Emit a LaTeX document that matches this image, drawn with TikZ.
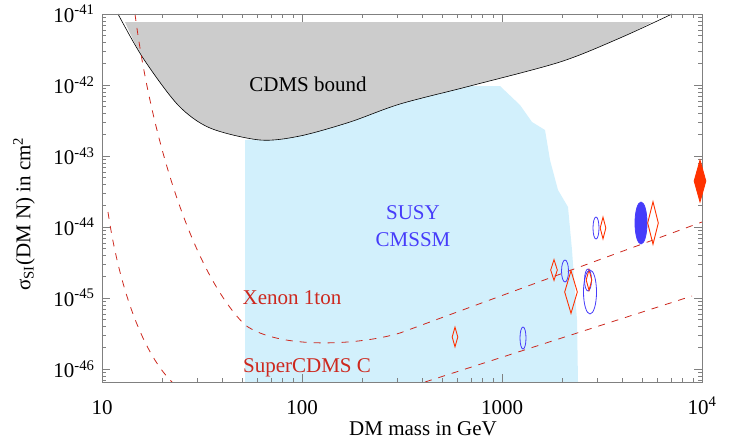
\documentclass[tikz,border=0pt]{standalone}
\usepackage{fontspec}
\setmainfont{Liberation Serif}
\usetikzlibrary{shapes.geometric}
\definecolor{lblue}{RGB}{210,240,252}
\definecolor{gfill}{RGB}{204,204,204}
\definecolor{dred}{RGB}{205,40,30}
\definecolor{mred}{RGB}{255,50,0}
\definecolor{mblue}{RGB}{70,60,250}
\begin{document}
\begin{tikzpicture}[x=1pt,y=-1pt,
  lab/.style={font=\fontsize{21}{24}\selectfont},
  dd/.style={draw=dred,dash pattern=on 7pt off 7pt,line width=0.8pt},
  rdia/.style={diamond,draw=mred,line width=0.9pt,inner sep=0pt,minimum width=#1},
  bell/.style={ellipse,draw=mblue,line width=0.8pt,inner sep=0pt}]
\useasboundingbox (0,0) rectangle (741,445);
% blue region
\fill[lblue] (245,382) -- (245,140) -- (300,136) -- (330,126) -- (400,104) -- (440,86) -- (500,86)
  -- (520,105) -- (532,122) -- (545,130) -- (550,160) -- (558,190) -- (568,207) -- (572,250) -- (577,320) -- (578,382) -- cycle;
% gray region
\fill[gfill,smooth] (125,22) -- plot coordinates {(125,22) (143,58) (178,105) (210,128) (260,140) (300,136) (350,122) (400,104) (470,86) (560,62) (620,38) (652,22)} -- cycle;
\draw[black,line width=0.6pt] plot[smooth] coordinates {(118,14) (143,58) (178,105) (210,128) (260,140) (300,136) (350,122) (400,104) (470,86) (560,62) (620,38) (672,14)};
% dashed curves
\draw[dd] (135,14) .. controls (150,130) and (190,270) .. (245,325) .. controls (280,350) and (360,345) .. (400,333) -- (702,222);
\draw[dd] (108,212) .. controls (118,280) and (140,350) .. (172,382);
\draw[dd] (425,382) -- (692,296);
% frame & ticks
\draw[gray,line width=0.8pt] (102,14) rectangle (702,382);
\foreach \d in {0,1,2}{\foreach \k in {2,...,9}{
  \pgfmathsetmacro\xx{102+200*(\d+ln(\k)/ln(10))}
  \draw[gray] (\xx,382) -- ++(0,-4); \draw[gray] (\xx,14) -- ++(0,4);}}
\foreach \d in {0,1,2,3}{\draw[gray] (102+200*\d,382) -- ++(0,-8); \draw[gray] (102+200*\d,14) -- ++(0,8);}
\foreach \d in {0,...,5}{\draw[gray] (102,14+71*\d) -- ++(8,0); \draw[gray] (702,14+71*\d) -- ++(-8,0);}
\foreach \d in {0,...,5}{\foreach \k in {2,...,9}{
  \pgfmathsetmacro\yy{14+71*(\d+1-ln(\k)/ln(10))}
  \ifdim\yy pt<382pt \draw[gray] (102,\yy) -- ++(4,0); \draw[gray] (702,\yy) -- ++(-4,0);\fi}}
% tick labels
\foreach \d/\t in {0/10,1/100,2/1000}{\node[lab] (xt\d) at (102+200*\d,408) {\t};}
\node[lab] (xt3) at (702,406) {10\textsuperscript{4}};
\foreach \d in {41,...,46}{\node[lab,anchor=east] (yt\d) at (98,{14+71*(\d-41)}) {10\textsuperscript{-\d}};}
\node[lab] (xl) at (423,429) {DM mass in GeV};
\node[lab,rotate=90] (yl) at (24,214) {σ\textsubscript{SI}(DM N) in cm\textsuperscript{2}};
% texts
\node[lab] (cdms) at (308,84) {CDMS bound};
\node[lab,text=mblue] (susy) at (413,213) {SUSY};
\node[lab,text=mblue] (cmssm) at (413,240) {CMSSM};
\node[lab,text=dred] (xen) at (292,298) {Xenon 1ton};
\node[lab,text=dred] (scd) at (307,368) {SuperCDMS C};
% markers
\node[rdia=12pt,fill=mred,minimum height=42pt] (m1) at (700,181) {};
\node[bell,fill=mblue,minimum width=12pt,minimum height=42pt] (m2) at (641,223) {};
\node[rdia=11pt,minimum height=43pt] (m3) at (653,223) {};
\node[bell,minimum width=6pt,minimum height=22pt] (m4) at (596,228) {};
\node[rdia=6pt,minimum height=22pt] (m5) at (603,228) {};
\node[rdia=7pt,minimum height=21pt] (m6) at (554,270) {};
\node[bell,minimum width=7pt,minimum height=22pt] (m7) at (565,271) {};
\node[rdia=13pt,minimum height=43pt] (m8) at (571,292) {};
\node[bell,minimum width=7pt,minimum height=22pt] (m9) at (588,280) {};
\node[rdia=6pt,minimum height=21pt] (m10) at (589,280) {};
\node[bell,minimum width=13pt,minimum height=44pt] (m11) at (590,292) {};
\node[bell,minimum width=6pt,minimum height=22pt] (m12) at (523,338) {};
\node[rdia=6pt,minimum height=20pt] (m13) at (455,337) {};
\end{tikzpicture}
\end{document}
